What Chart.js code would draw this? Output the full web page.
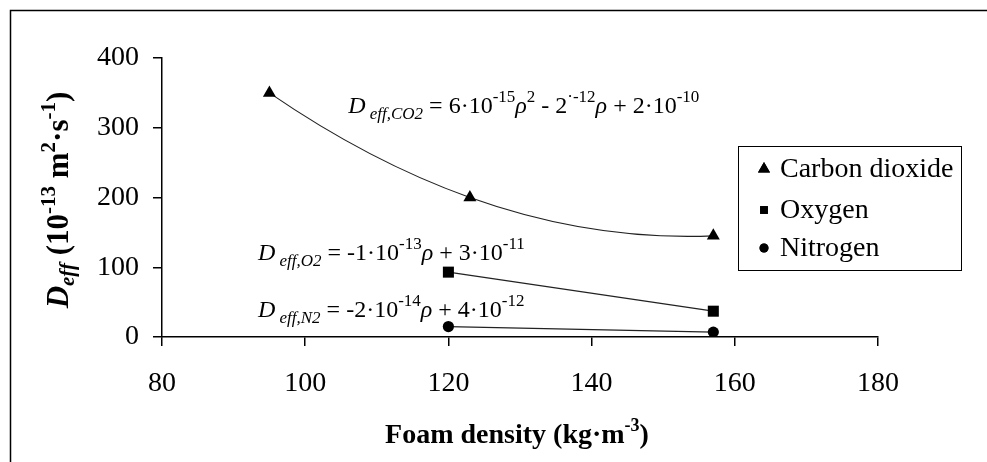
<!DOCTYPE html>
<html>
<head>
<meta charset="utf-8">
<script src="https://cdn.jsdelivr.net/npm/chart.js@4/dist/chart.umd.min.js"></script>
<style>
  html, body { margin: 0; padding: 0; background: #fff; }
  #wrap { width: 987px; height: 462px; position: relative; }
</style>
</head>
<body>
<div id="wrap"><canvas id="chart" width="987" height="462"></canvas></div>
<script>
// foam density (kg/m3) and effective diffusivity (1e-13 m2/s)
var co2Density = [95, 123, 157]
var co2Deff = [350, 200, 145]
var o2Density = [120, 157]
var o2Deff = [93, 37]
var n2Density = [120, 157]
var n2Deff = [15, 7]
var seriesNames = ["Carbon dioxide", "Oxygen", "Nitrogen"]
var xTicks = [80, 100, 120, 140, 160, 180]
var yTicks = [0, 100, 200, 300, 400]

var SERIF = "'Liberation Serif', 'Times New Roman', serif"

var toPoints = function(xs, ys) {
  return xs.map(function(x, i) { return { x: x, y: ys[i] } })
}

// draws a run of text pieces, each with its own font and vertical shift
var drawRich = function(ctx, parts, x, y) {
  parts.forEach(function(p) {
    ctx.font = p.f
    ctx.fillText(p.t, x, y + (p.dy || 0))
    x += ctx.measureText(p.t).width
  })
  return x
}
var richWidth = function(ctx, parts) {
  var w = 0
  parts.forEach(function(p) { ctx.font = p.f; w += ctx.measureText(p.t).width })
  return w
}

var eqB = "24px " + SERIF
var eqBI = "italic 24px " + SERIF
var eqS = "17px " + SERIF
var eqSI = "italic 17px " + SERIF
var legFont = "28px " + SERIF
var bB = "bold 28px " + SERIF
var bS = "bold 18px " + SERIF
var yB = "bold 31px " + SERIF
var yBI = "bold italic 31px " + SERIF
var yS = "bold 21px " + SERIF
var ySI = "bold italic 21px " + SERIF

// equation anchors are in data units (density, Deff)
var equations = [
  { x: 106, y: 321, parts: [
    { t: "D", f: eqBI }, { t: " eff,CO2", f: eqSI, dy: 6 }, { t: " = 6·10", f: eqB },
    { t: "-15", f: eqS, dy: -11 }, { t: "ρ", f: eqBI }, { t: "2", f: eqS, dy: -11 },
    { t: " - 2", f: eqB }, { t: "·-12", f: eqS, dy: -11 }, { t: "ρ", f: eqBI },
    { t: " + 2·10", f: eqB }, { t: "-10", f: eqS, dy: -11 } ] },
  { x: 93.4, y: 111, parts: [
    { t: "D", f: eqBI }, { t: " eff,O2", f: eqSI, dy: 6 }, { t: " = -1·10", f: eqB },
    { t: "-13", f: eqS, dy: -11 }, { t: "ρ", f: eqBI }, { t: " + 3·10", f: eqB },
    { t: "-11", f: eqS, dy: -11 } ] },
  { x: 93.4, y: 28, parts: [
    { t: "D", f: eqBI }, { t: " eff,N2", f: eqSI, dy: 6 }, { t: " = -2·10", f: eqB },
    { t: "-14", f: eqS, dy: -11 }, { t: "ρ", f: eqBI }, { t: " + 4·10", f: eqB },
    { t: "-12", f: eqS, dy: -11 } ] }
]

// the CO2 line is a quadratic trend line: give the bezier the tangents of
// the parabola through its three points so the curve bends like the original
var parabolaTangents = {
  id: 'parabolaTangents',
  beforeDatasetDraw: function(chart, args) {
    if (args.index !== 0) return
    var p = args.meta.data
    if (p.length !== 3) return
    args.meta.dataset.updateControlPoints(chart.chartArea, 'x')
    var d01 = (p[1].y - p[0].y) / (p[1].x - p[0].x)
    var d12 = (p[2].y - p[1].y) / (p[2].x - p[1].x)
    var a = (d12 - d01) / (p[2].x - p[0].x)
    var slope = function(x) { return d01 + a * (2 * x - p[0].x - p[1].x) }
    p.forEach(function(pt, i) {
      var m = slope(pt.x)
      if (i > 0) {
        var h = (pt.x - p[i - 1].x) / 3
        pt.cp1x = pt.x - h; pt.cp1y = pt.y - m * h
      }
      if (i < p.length - 1) {
        var h2 = (p[i + 1].x - pt.x) / 3
        pt.cp2x = pt.x + h2; pt.cp2y = pt.y + m * h2
      }
    })
  }
}

var annotate = {
  id: 'annotate',
  afterDraw: function(chart) {
    var ctx = chart.ctx
    var xs = chart.scales.x, ys = chart.scales.y
    var area = chart.chartArea
    ctx.save()
    ctx.fillStyle = '#000'
    ctx.textBaseline = 'alphabetic'
    ctx.textAlign = 'left'

    // outer frame (left and top edges are the only ones in view)
    ctx.strokeStyle = '#000'
    ctx.lineWidth = 1.5
    ctx.beginPath()
    ctx.moveTo(10.5, 470); ctx.lineTo(10.5, 10.5); ctx.lineTo(990, 10.5)
    ctx.stroke()

    equations.forEach(function(eq) {
      drawRich(ctx, eq.parts, xs.getPixelForValue(eq.x), ys.getPixelForValue(eq.y))
    })

    // x title
    var xt = [{ t: "Foam density (kg·m", f: bB }, { t: "-3", f: bS, dy: -12 }, { t: ")", f: bB }]
    var cx = (area.left + area.right) / 2
    drawRich(ctx, xt, cx - richWidth(ctx, xt) / 2 - 3, 443)

    // y title
    var yt = [{ t: "D", f: yBI }, { t: "eff", f: ySI, dy: 6 }, { t: " (10", f: yB },
      { t: "-13", f: yS, dy: -13 }, { t: " m", f: yB }, { t: "2", f: yS, dy: -13 },
      { t: "·s", f: yB }, { t: "-1", f: yS, dy: -13 }, { t: ")", f: yB }]
    ctx.save()
    ctx.translate(68, 200)
    ctx.rotate(-Math.PI / 2)
    drawRich(ctx, yt, -richWidth(ctx, yt) / 2, 0)
    ctx.restore()

    // legend box
    ctx.lineWidth = 1
    ctx.strokeStyle = '#000'
    ctx.strokeRect(738.5, 146.5, 223, 124)
    var rows = [169, 210, 248]
    var marks = [['triangle', 7], ['rect', 5.5], ['circle', 4.5]]
    chart.data.datasets.forEach(function(ds, i) {
      ctx.beginPath()
      Chart.helpers.drawPoint(ctx, { pointStyle: marks[i][0], radius: marks[i][1], rotation: 0, borderWidth: 0 }, 764, rows[i])
      ctx.fill()
      ctx.font = legFont
      ctx.textBaseline = 'middle'
      ctx.fillText(ds.label, 780, rows[i] + 1)
      ctx.textBaseline = 'alphabetic'
    })
    ctx.restore()
  }
}

var baseSet = function(label, pts, style, r) {
  return {
    label: label,
    data: pts,
    showLine: true,
    borderColor: '#222',
    borderWidth: 1.2,
    backgroundColor: '#000',
    pointBackgroundColor: '#000',
    pointBorderColor: '#000',
    pointBorderWidth: 0,
    pointStyle: style,
    pointRadius: r,
    fill: false
  }
}

var datasets = [
  baseSet(seriesNames[0], toPoints(co2Density, co2Deff), 'triangle', 7.5),
  baseSet(seriesNames[1], toPoints(o2Density, o2Deff), 'rect', 7.8),
  baseSet(seriesNames[2], toPoints(n2Density, n2Deff), 'circle', 5.6)
]
datasets[0].tension = 0.4

new Chart(document.getElementById('chart'), {
  type: 'scatter',
  data: { datasets: datasets },
  plugins: [parabolaTangents, annotate],
  options: {
    responsive: false,
    animation: false,
    layout: { padding: { left: 62, right: 109, top: 58, bottom: 0 } },
    plugins: { legend: { display: false }, tooltip: { enabled: false } },
    scales: {
      x: {
        type: 'linear', min: 80, max: 180,
        afterBuildTicks: function(s) { s.ticks = xTicks.map(function(v) { return { value: v } }) },
        afterFit: function(s) { s.height = 125 },
        border: { display: true, color: '#000', width: 1.5 },
        grid: { display: true, drawOnChartArea: false, drawTicks: true, tickLength: 9, color: '#000', lineWidth: 1.5 },
        ticks: { color: '#000', font: { family: SERIF, size: 28 }, padding: 21, maxRotation: 0 }
      },
      y: {
        type: 'linear', min: 0, max: 400,
        afterBuildTicks: function(s) { s.ticks = yTicks.map(function(v) { return { value: v } }) },
        afterFit: function(s) { s.width = 100 },
        border: { display: true, color: '#000', width: 1.5 },
        grid: { display: true, drawOnChartArea: false, drawTicks: true, tickLength: 9, color: '#000', lineWidth: 1.5 },
        ticks: { color: '#000', font: { family: SERIF, size: 28 }, padding: 14 }
      }
    }
  }
})
</script>
</body>
</html>
